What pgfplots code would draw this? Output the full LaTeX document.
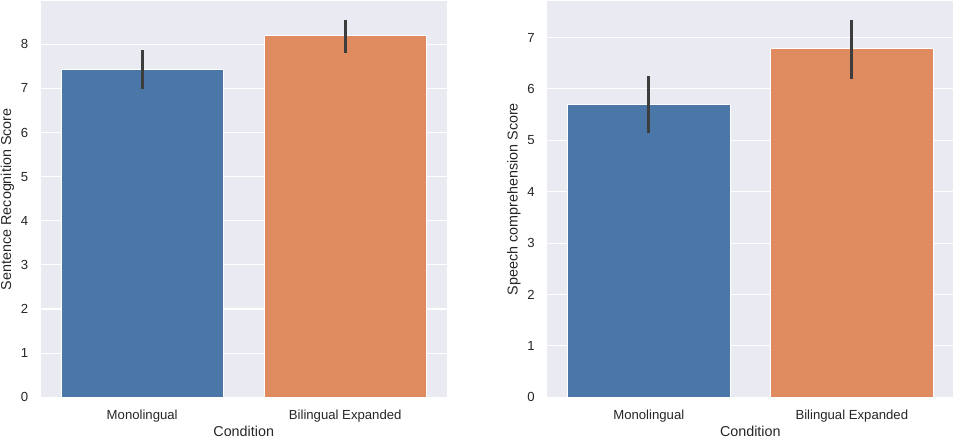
\documentclass[border=0pt]{standalone}
\usepackage{pgfplots}
\pgfplotsset{compat=1.18}
\usepackage{fontspec}
\setmainfont{Liberation Sans}
\definecolor{sbblue}{HTML}{4A76A8}
\definecolor{sborange}{HTML}{E08A60}
\definecolor{sbbg}{HTML}{EAEAF2}
\definecolor{errc}{HTML}{3D3D3D}
\pgfplotsset{
  sbstyle/.style={
    scale only axis,
    width=406bp, height=396.3bp,
    axis background/.style={fill=sbbg},
    axis line style={draw=none},
    major tick length=0pt,
    ymajorgrids,
    grid style={white, line width=1.1bp},
    xmin=-0.5, xmax=1.5, ymin=0,
    xtick={0,1},
    xticklabels={Monolingual, Bilingual Expanded},
    tick label style={font=\fontsize{13.2}{15}\selectfont, text=black!85},
    label style={font=\fontsize{14.4}{16}\selectfont, text=black!85},
    /pgf/number format/assume math mode=true,
    xticklabel style={anchor=base, yshift=-22bp},
    yticklabel style={anchor=east, inner sep=0pt, xshift=-12.4bp},
    xlabel={Condition},
    xlabel style={at={(axis description cs:0.5,-0.1)}, anchor=base},
    ylabel style={at={(axis description cs:-0.082,0.5)}, anchor=center, rotate=0},
    axis on top=false,
  },
  sbbar/.style={ybar, bar width=0.8, bar shift=0pt, draw=white, line width=0.8bp, fill=#1},
  sberr/.style={errc, line width=2.7bp, forget plot},
}
\begin{document}
\begin{tikzpicture}
\useasboundingbox (0,0) rectangle (955bp,439bp);
\begin{axis}[sbstyle, at={(40.7bp,41.7bp)}, anchor=south west,
  ymax=8.98, ytick={0,1,...,8},
  ylabel={Sentence Recognition Score}]
  \addplot[sbbar=sbblue] coordinates {(0,7.42)};
  \addplot[sbbar=sborange] coordinates {(1,8.20)};
  \addplot[sberr] coordinates {(0,6.98) (0,7.88)};
  \addplot[sberr] coordinates {(1,7.81) (1,8.56)};
\end{axis}
\begin{axis}[sbstyle, at={(547.3bp,41.7bp)}, anchor=south west,
  ymax=7.71, ytick={0,1,...,7},
  ylabel={Speech comprehension Score}]
  \addplot[sbbar=sbblue] coordinates {(0,5.69)};
  \addplot[sbbar=sborange] coordinates {(1,6.79)};
  \addplot[sberr] coordinates {(0,5.15) (0,6.26)};
  \addplot[sberr] coordinates {(1,6.19) (1,7.35)};
\end{axis}
\end{tikzpicture}
\end{document}
